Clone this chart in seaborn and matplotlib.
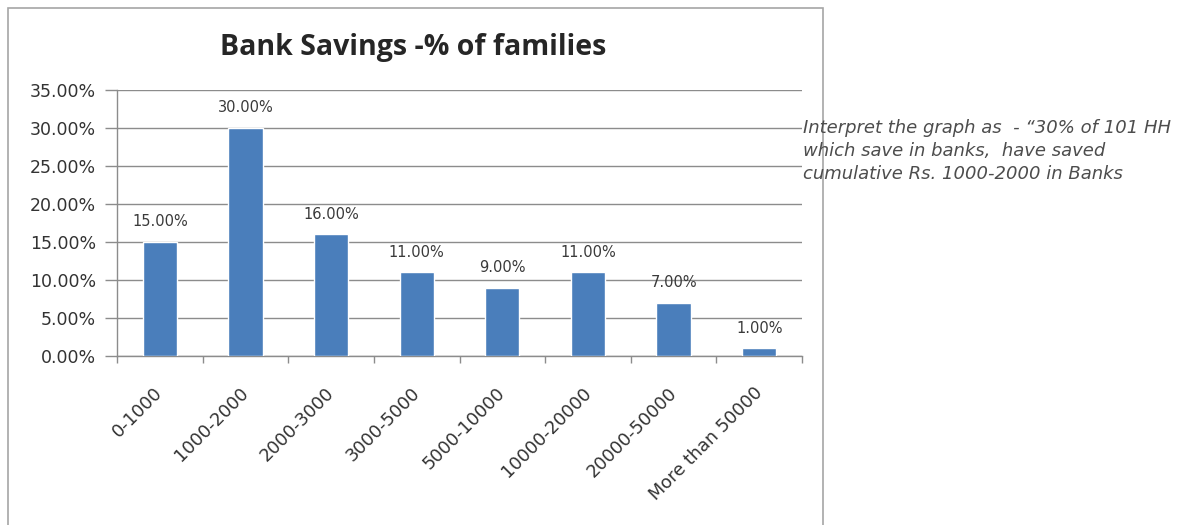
import matplotlib
matplotlib.use("Agg")
import matplotlib.pyplot as plt
from matplotlib.patches import Rectangle
from matplotlib.ticker import FuncFormatter, MultipleLocator
from matplotlib.transforms import ScaledTranslation
import seaborn as sns
import pandas as pd

# Bank savings bands and share of families in each band (percent)
categories = ["0-1000", "1000-2000", "2000-3000", "3000-5000",
              "5000-10000", "10000-20000", "20000-50000", "More than 50000"]
share_pct = [15, 30, 16, 11, 9, 11, 7, 1]
title_text = "Bank Savings -% of families"
note_lines = ["Interpret the graph as  - \u201c30% of 101 HH",
              "which save in banks,  have saved",
              "cumulative Rs. 1000-2000 in Banks"]

sns.set_theme(style="white")
plt.rcParams["font.family"] = ["DejaVu Sans"]

df = pd.DataFrame({"band": categories, "share": share_pct})

fig = plt.figure(figsize=(11.83, 5.25), dpi=100)
fig.patch.set_facecolor("white")

# outer chart frame
fig.add_artist(Rectangle((8 / 1183, -0.05), (823 - 8) / 1183, 1.05 - 8 / 525,
                         transform=fig.transFigure, fill=False,
                         edgecolor="#a6a6a6", linewidth=1.2, clip_on=False))

ax = fig.add_axes([117 / 1183, 1 - 356 / 525, (802 - 117) / 1183, (356 - 90) / 525])
sns.barplot(data=df, x="band", y="share", color="#4a7ebb", width=0.4,
            saturation=1, ax=ax, zorder=3)

ax.set_ylim(0, 35)
ax.set_xlim(-0.5, len(categories) - 0.5)
ax.yaxis.set_major_locator(MultipleLocator(5))
ax.yaxis.set_major_formatter(FuncFormatter(lambda v, p: f"{v:.2f}%"))
ax.grid(axis="y", color="#8c8c8c", linewidth=1.0, zorder=0)
ax.set_axisbelow(True)
ax.set_xlabel("")
ax.set_ylabel("")

for s in ["top", "right"]:
    ax.spines[s].set_visible(False)
for s in ["left", "bottom"]:
    ax.spines[s].set_color("#8c8c8c")
    ax.spines[s].set_linewidth(1.0)

ax.tick_params(axis="y", which="major", length=9, width=1.0, color="#8c8c8c",
               labelsize=12.5, labelcolor="#333333", pad=6, left=True)
ax.set_xticks(range(len(categories)))
ax.set_xticklabels(categories, rotation=45, ha="right", rotation_mode="anchor",
                   fontsize=12.8, color="#333333")
ax.tick_params(axis="x", which="major", length=0, pad=20)
shift = ScaledTranslation(-6 / 100, 0, fig.dpi_scale_trans)
for lbl in ax.get_xticklabels():
    lbl.set_transform(lbl.get_transform() + shift)
ax.set_xticks([i - 0.5 for i in range(len(categories) + 1)], minor=True)
ax.tick_params(axis="x", which="minor", length=5, width=1.0, color="#8c8c8c",
               bottom=True)

for i, v in enumerate(share_pct):
    ax.annotate(f"{v:.2f}%", (i, v), xytext=(0, 9), textcoords="offset points",
                ha="center", va="bottom", fontsize=10.5, color="#3a3a3a")

fig.text(413 / 1183, 1 - 47 / 525, title_text, ha="center", va="center",
         fontsize=20.5, fontweight="bold", color="#262626",
         family=["Open Sans", "DejaVu Sans"])

for k, line in enumerate(note_lines):
    fig.text(803 / 1183, 1 - (128 + 23 * k) / 525, line, ha="left", va="center",
             fontsize=13, style="italic", color="#4d4d4d")

fig.savefig("out.png", dpi=100, facecolor="white")
